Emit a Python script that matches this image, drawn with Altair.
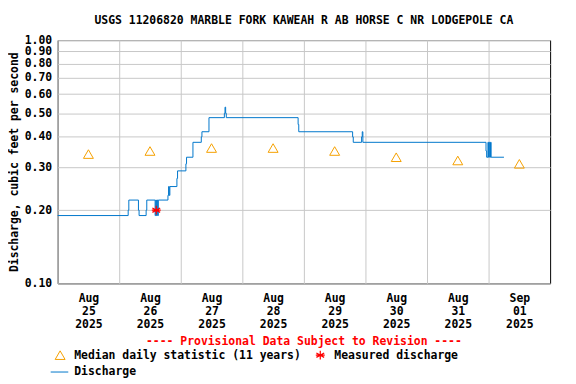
import altair as alt
import pandas as pd

# ---------------- data ----------------
q_time = [
    "2025-08-25T00:00", "2025-08-26T03:30", "2025-08-26T03:45", "2025-08-26T07:30",
    "2025-08-26T07:45", "2025-08-26T10:30", "2025-08-26T10:45", "2025-08-26T14:00",
    "2025-08-26T14:15", "2025-08-26T14:30", "2025-08-26T14:45", "2025-08-26T15:00",
    "2025-08-26T15:15", "2025-08-26T19:00", "2025-08-26T19:15", "2025-08-26T19:30",
    "2025-08-26T19:45", "2025-08-26T22:30", "2025-08-26T22:45", "2025-08-27T02:00",
    "2025-08-27T02:15", "2025-08-27T04:45", "2025-08-27T08:00", "2025-08-27T08:15",
    "2025-08-27T11:00", "2025-08-27T17:00", "2025-08-27T17:15", "2025-08-27T17:30",
    "2025-08-27T17:45", "2025-08-28T21:45", "2025-08-28T22:00", "2025-08-29T19:00",
    "2025-08-29T19:15", "2025-08-29T22:30", "2025-08-29T22:45", "2025-08-29T23:00",
    "2025-08-31T23:00", "2025-08-31T23:15", "2025-08-31T23:45", "2025-09-01T00:00",
    "2025-09-01T00:15", "2025-09-01T00:30", "2025-09-01T00:45", "2025-09-01T01:00",
    "2025-09-01T06:00",
]
q_value = [
    0.19, 0.20, 0.22, 0.20,
    0.19, 0.20, 0.22, 0.19,
    0.22, 0.19, 0.22, 0.19,
    0.22, 0.23, 0.25, 0.23,
    0.25, 0.27, 0.29, 0.31,
    0.33, 0.38, 0.40, 0.42,
    0.48, 0.50, 0.53, 0.50,
    0.48, 0.45, 0.42, 0.40,
    0.38, 0.40, 0.42, 0.38,
    0.35, 0.33, 0.38, 0.33,
    0.38, 0.33, 0.38, 0.33,
    0.33,
]

median_time = [
    "2025-08-25T12:00", "2025-08-26T12:00", "2025-08-27T12:00", "2025-08-28T12:00",
    "2025-08-29T12:00", "2025-08-30T12:00", "2025-08-31T12:00", "2025-09-01T12:00",
]
median_value = [0.34, 0.35, 0.36, 0.36, 0.35, 0.33, 0.32, 0.31]

measured_time = ["2025-08-26T14:27"]
measured_value = [0.20]

y_ticks = [0.10, 0.20, 0.30, 0.40, 0.50, 0.60, 0.70, 0.80, 0.90, 1.00]

title_text = "USGS 11206820 MARBLE FORK KAWEAH R AB HORSE C NR LODGEPOLE CA"
y_title = "Discharge, cubic feet per second"
footer_text = "---- Provisional Data Subject to Revision ----"
legend_median = "Median daily statistic (11 years)"
legend_measured = "Measured discharge"
legend_discharge = "Discharge"

FONT = "DejaVu Sans Mono"
FS = 11.5
BLUE = "#0077cc"
ORANGE = "#f5a000"
RED = "#ff0000"
ASTERISK = "M0,-1L0,1M-0.87,-0.5L0.87,0.5M-0.87,0.5L0.87,-0.5M-1,0L1,0"

q_df = pd.DataFrame({"time": q_time, "value": q_value})
med_df = pd.DataFrame({"time": median_time, "value": median_value})
meas_df = pd.DataFrame({"time": measured_time, "value": measured_value})

day_ticks = [alt.DateTime(year=2025, month=8, date=d) for d in range(25, 32)] + [
    alt.DateTime(year=2025, month=9, date=1)
]

x_scale = alt.Scale(
    domain=[alt.DateTime(year=2025, month=8, date=25), alt.DateTime(year=2025, month=9, date=2)],
    nice=False,
)
y_scale = alt.Scale(type="log", domain=[0.1, 1.0], nice=False)

x_axis = alt.Axis(
    values=day_ticks,
    title=None,
    grid=True,
    ticks=False,
    labelOffset=31,
    labelFlush=False,
    labelOverlap=False,
    labelPadding=9,
    labelLineHeight=13,
    labelExpr="[timeFormat(datum.value, '%b'), timeFormat(datum.value, '%d'), timeFormat(datum.value, '%Y')]",
)
y_axis = alt.Axis(
    values=y_ticks,
    format=".2f",
    title=None,
    grid=True,
    ticks=False,
    labelPadding=6,
    labelOverlap=False,
)

base_x = alt.X("time:T", scale=x_scale, axis=x_axis)
base_y = alt.Y("value:Q", scale=y_scale, axis=y_axis)

line = alt.Chart(q_df).mark_line(interpolate="step-after", color=BLUE, strokeWidth=1).encode(
    x=base_x, y=base_y
)
medians = alt.Chart(med_df).mark_point(
    shape="triangle-up", filled=False, color=ORANGE, size=100, strokeWidth=1, opacity=1
).encode(x="time:T", y="value:Q")
measured = alt.Chart(meas_df).mark_point(
    shape=ASTERISK, filled=False, color=RED, size=81, strokeWidth=1.2, opacity=1
).encode(x="time:T", y="value:Q")

# ---- title, axis title, footer and legend ----
one = pd.DataFrame({"k": [0]})
txt = dict(font=FONT, fontSize=FS, fontWeight="bold")
title = alt.Chart(one).mark_text(color="black", align="center", baseline="middle", **txt).encode(
    x=alt.value(248), y=alt.value(-19), text=alt.value(title_text)
)
ytitle = alt.Chart(one).mark_text(
    color="black", align="center", baseline="alphabetic", angle=270, **txt
).encode(x=alt.value(-39.5), y=alt.value(123), text=alt.value(y_title))
footer = alt.Chart(one).mark_text(color=RED, align="center", baseline="middle", **txt).encode(
    x=alt.value(248), y=alt.value(304), text=alt.value(footer_text)
)
leg_tri = alt.Chart(one).mark_point(
    shape="triangle-up", filled=False, color=ORANGE, size=100, strokeWidth=1, opacity=1
).encode(x=alt.value(2.5), y=alt.value(317.3))
leg_tri_t = alt.Chart(one).mark_text(color="black", align="left", baseline="middle", **txt).encode(
    x=alt.value(16.7), y=alt.value(318), text=alt.value(legend_median)
)
leg_ast = alt.Chart(one).mark_point(
    shape=ASTERISK, filled=False, color=RED, size=81, strokeWidth=1.2, opacity=1
).encode(x=alt.value(264.5), y=alt.value(317.3))
leg_ast_t = alt.Chart(one).mark_text(color="black", align="left", baseline="middle", **txt).encode(
    x=alt.value(278.7), y=alt.value(318), text=alt.value(legend_measured)
)
leg_line = alt.Chart(one).mark_rule(color=BLUE, strokeWidth=1).encode(
    x=alt.value(-7), x2=alt.value(10.7), y=alt.value(334.3)
)
leg_line_t = alt.Chart(one).mark_text(color="black", align="left", baseline="middle", **txt).encode(
    x=alt.value(16.7), y=alt.value(334.3), text=alt.value(legend_discharge)
)

chart = (
    alt.layer(
        line, medians, measured, title, ytitle, footer,
        leg_tri, leg_tri_t, leg_ast, leg_ast_t, leg_line, leg_line_t,
    )
    .properties(
        width=496,
        height=245,
        autosize=alt.AutoSizeParams(type="none"),
        padding={"left": 50, "top": 31, "right": 18, "bottom": 96},
        background="white",
    )
    .configure_view(stroke="black", strokeWidth=1)
    .configure_axis(
        gridColor="#c8c8c8",
        gridWidth=1,
        gridOpacity=1,
        domain=False,
        labelFont=FONT,
        labelFontSize=FS,
        labelFontWeight="bold",
        labelColor="black",
    )
)

chart.save("out.html", embed_options={"renderer": "svg", "actions": False})
